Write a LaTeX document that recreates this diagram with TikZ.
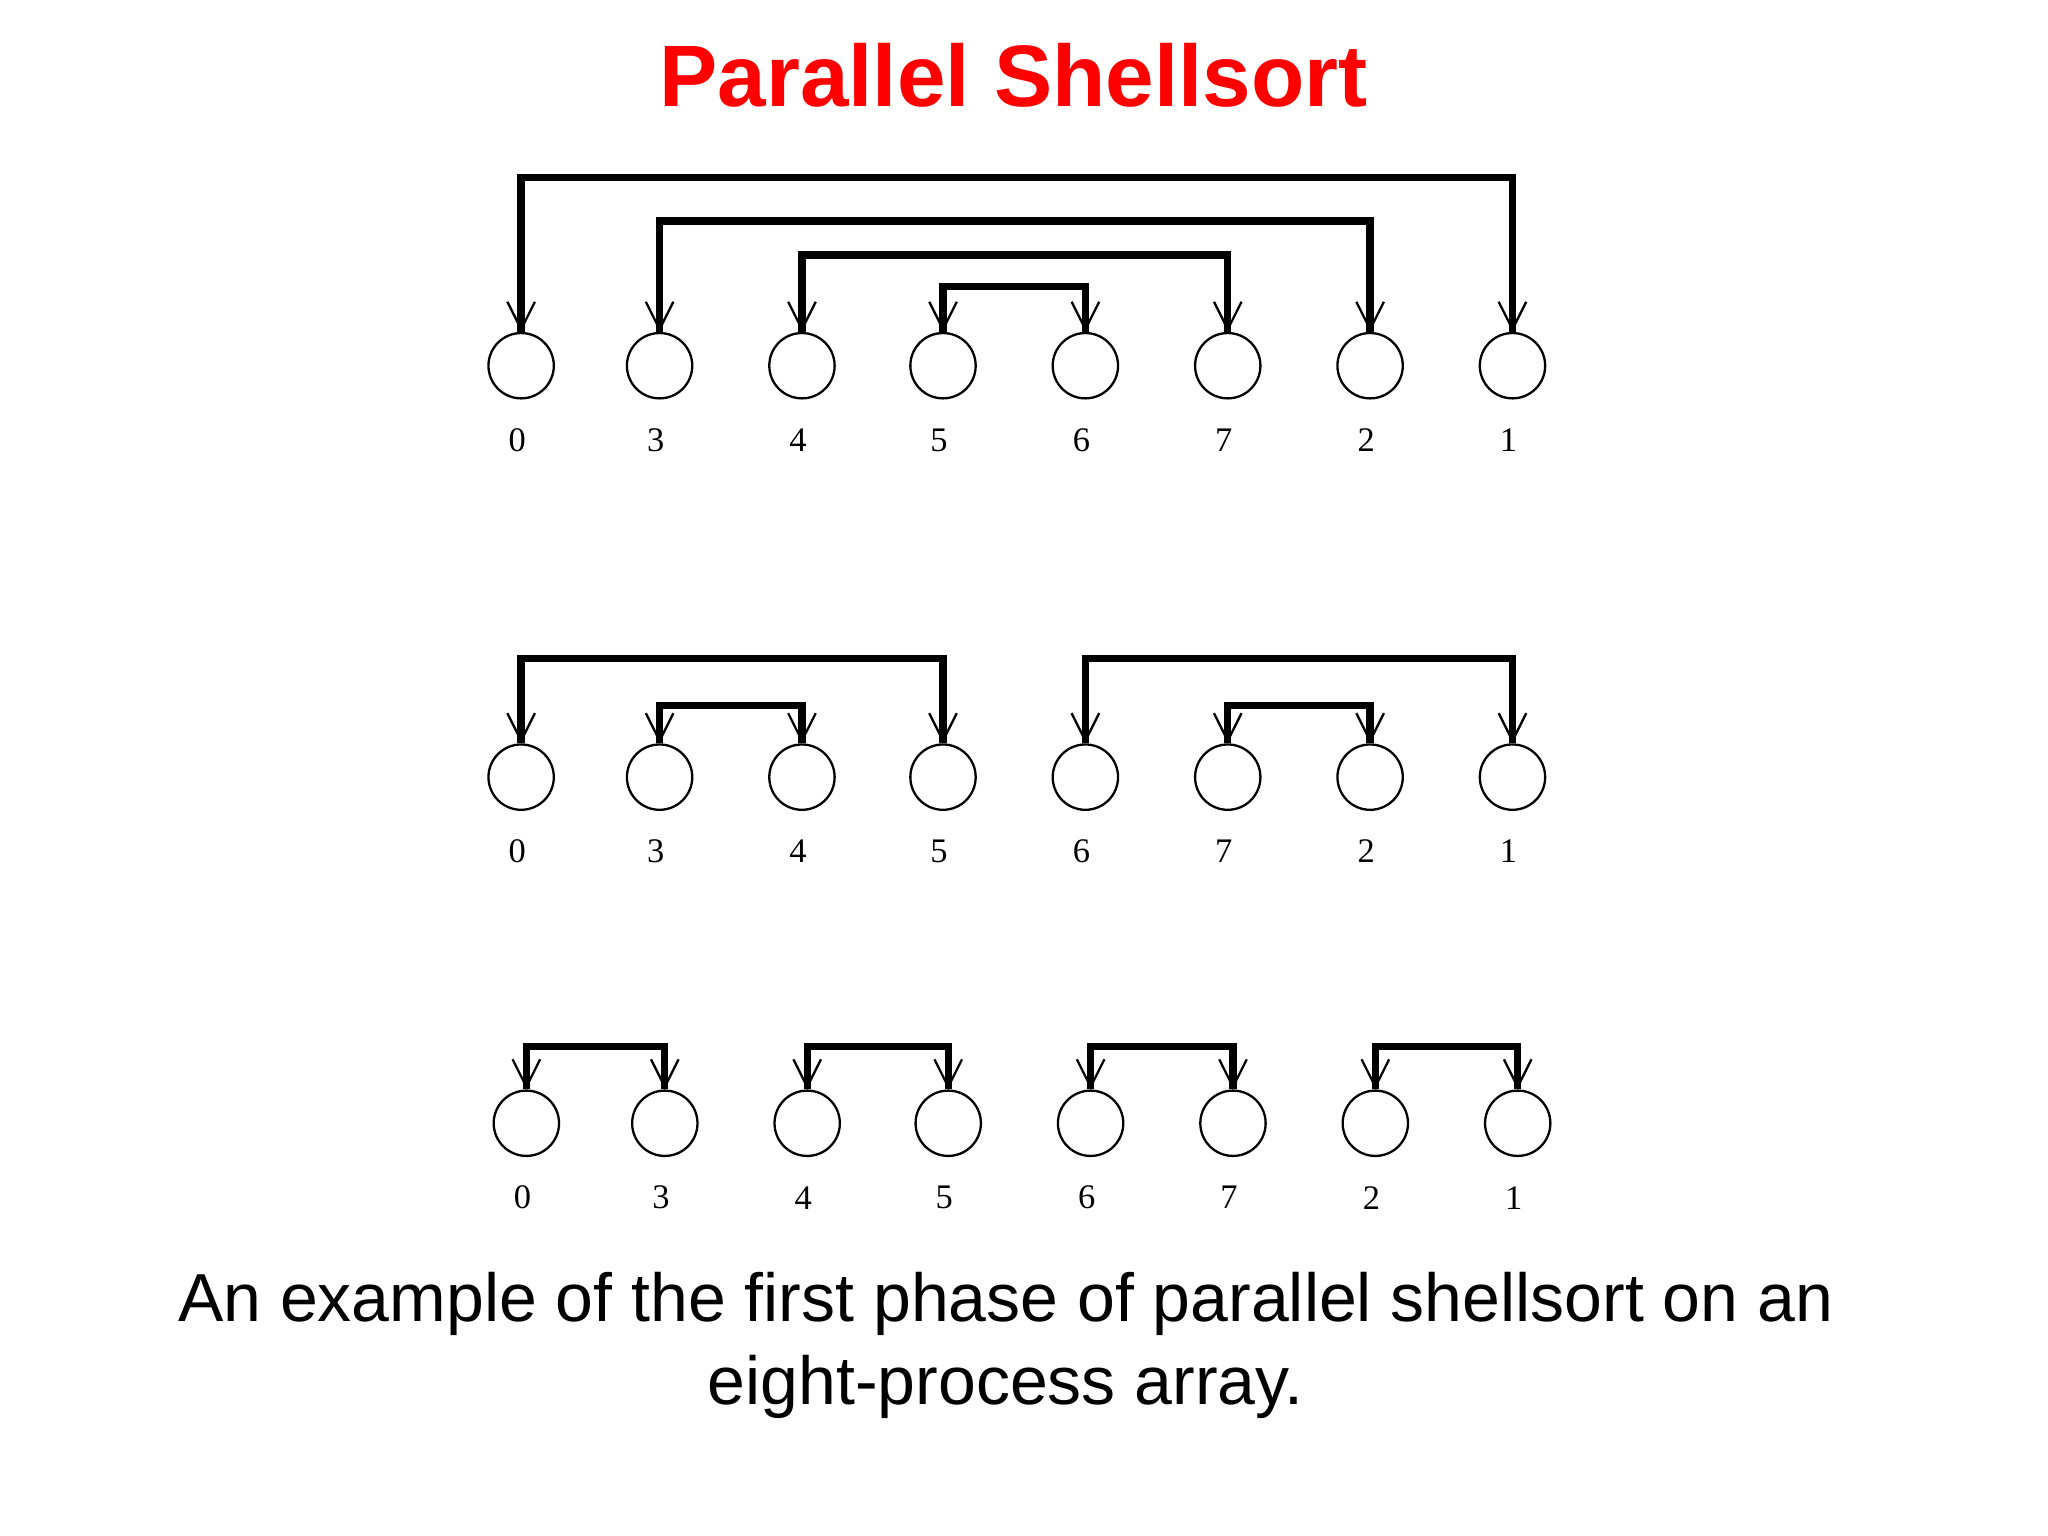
\documentclass[tikz,border=0pt]{standalone}
\usepackage{fontspec}
\setmainfont{Liberation Serif}
\newfontfamily\sansf{Liberation Sans}
\usetikzlibrary{arrows.meta}
\begin{document}
\begin{tikzpicture}[x=0.01cm,y=-0.01cm,
  proc/.style={circle,draw,line width=0.5pt,minimum size=0.5cm,inner sep=0pt},
  lab/.style={font=\fontsize{7.5}{9}\selectfont},
  link/.style={line width=1.6pt,-{Straight Barb[line width=0.5pt,length=6pt,width=6pt]}}]
\useasboundingbox (0,0) rectangle (1568,1176);
\node[text=red,font=\sansf\bfseries\fontsize{19}{22}\selectfont] (title) at (776,58) {Parallel Shellsort};
\node[font=\sansf\fontsize{14.8}{18}\selectfont,align=center] (cap) at (770,1030) {An example of the first phase of parallel shellsort on an\\eight-process array.};
\foreach \r/\y/\dx in {a/280/0,b/595/0,c/860/4}{
  \foreach \i/\x/\v in {1/399/0,2/505/3,3/614/4,4/722/5,5/831/6,6/940/7,7/1049/2,8/1158/1}{
    \node[proc] (\r\i) at (\x+\dx,\y) {};
    \node[lab] (\r l\i) at (\x+\dx-3,\y+57) {\v};
  }}
% row 1
\foreach \p/\q/\h in {1/8/118,2/7/85,3/6/59,4/5/35}{
  \draw[link] (a\p.north) -- ++(0,-\h) -| (a\q.north);
  \draw[link] (a\q.north) -- ++(0,-\h) -| (a\p.north);
}
% row 2
\foreach \p/\q/\h in {1/4/65,2/3/29,5/8/65,6/7/29}{
  \draw[link] (b\p.north) -- ++(0,-\h) -| (b\q.north);
  \draw[link] (b\q.north) -- ++(0,-\h) -| (b\p.north);
}
% row 3
\foreach \p/\q in {1/2,3/4,5/6,7/8}{
  \draw[link] (c\p.north) -- ++(0,-33) -| (c\q.north);
  \draw[link] (c\q.north) -- ++(0,-33) -| (c\p.north);
}
\end{tikzpicture}
\end{document}
